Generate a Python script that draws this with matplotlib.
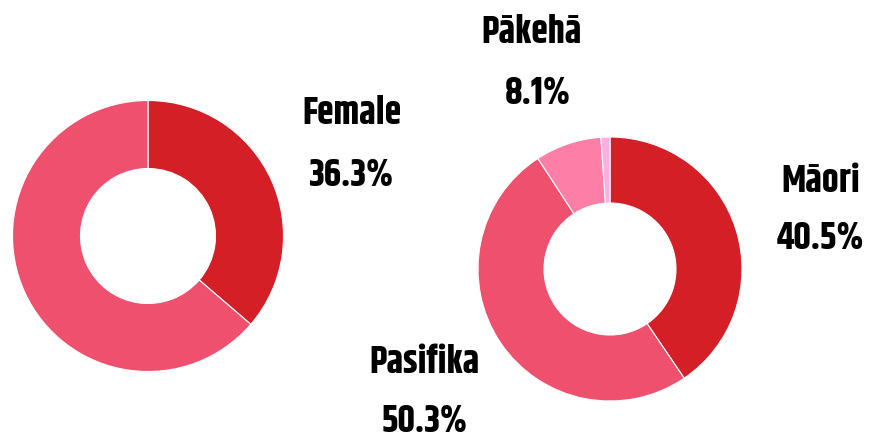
import matplotlib
matplotlib.use("Agg")
import matplotlib.pyplot as plt

# Data
gender_labels = ["Female", "Male"]
gender_values = [36.3, 63.7]
gender_colors = ["#d51f26", "#ee506d"]

eth_labels = ["Māori", "Pasifika", "Pākehā", "Other"]
eth_values = [40.5, 50.3, 8.1, 1.1]
eth_colors = ["#d51f26", "#ee506d", "#fd7ea6", "#ffaee0"]

W, H = 879, 438
fig = plt.figure(figsize=(W / 100, H / 100), dpi=100)
ax = fig.add_axes([0, 0, 1, 1])

wp = dict(edgecolor="white", linewidth=0.8)
ax.pie(gender_values, colors=gender_colors, startangle=90, counterclock=False,
       center=(148, -236), radius=135.5, wedgeprops=dict(width=68, **wp), frame=True)
ax.pie(eth_values, colors=eth_colors, startangle=90, counterclock=False,
       center=(610, -269), radius=132, wedgeprops=dict(width=66, **wp), frame=True)
ax.set_xlim(0, W)
ax.set_ylim(-H, 0)
ax.set_aspect("equal")
ax.axis("off")

font = dict(family=["Khand", "DejaVu Sans"], weight="bold",
            fontsize=27, color="black", ha="center", va="center")

ax.text(352, -113, gender_labels[0], **font)
ax.text(351, -175, f"{gender_values[0]}%", **font)
ax.text(532, -31, eth_labels[2], **font)
ax.text(538, -92, f"{eth_values[2]}%", **font)
ax.text(821, -180, eth_labels[0], **font)
ax.text(820, -238, f"{eth_values[0]}%", **font)
ax.text(425, -362, eth_labels[1], **font)
ax.text(425, -421, f"{eth_values[1]}%", **font)

fig.savefig("out.png", dpi=100, facecolor="white")
